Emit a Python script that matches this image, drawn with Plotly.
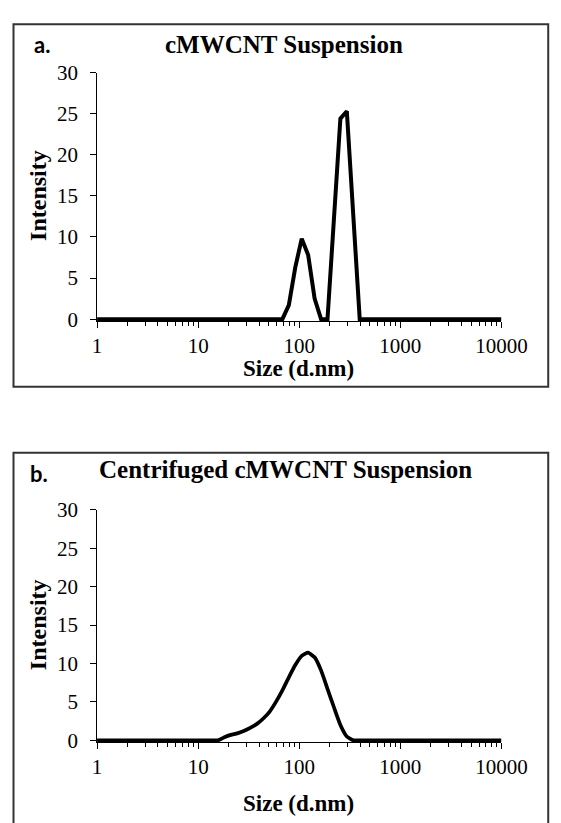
import plotly.graph_objects as go

W, H = 561, 823

# ---- data ----
size_a = [0.4, 58.77, 68.06, 78.82, 91.28, 105.7, 122.4, 141.8, 164.2, 190.1,
          220.2, 255.0, 295.3, 342.0, 396.1, 10000]
int_a = [0, 0, 0, 1.7, 6.3, 9.8, 7.8, 2.5, 0, 0,
         13.1, 24.4, 25.3, 12.2, 0, 0]

size_b = [0.4, 13.54, 15.69, 18.17, 21.04, 24.36, 28.21, 32.67, 37.84, 43.82,
          50.75, 58.77, 68.06, 78.82, 91.28, 105.7, 122.4, 141.8, 164.2, 190.1,
          220.2, 255.0, 295.3, 342.0, 396.1, 10000]
int_b = [0, 0, 0, 0.4, 0.7, 0.9, 1.2, 1.6, 2.1, 2.8,
         3.7, 5.0, 6.5, 8.2, 9.8, 11.0, 11.4, 10.8, 9.1, 6.7,
         4.3, 2.0, 0.5, 0, 0, 0]

y_tick_vals = [0, 5, 10, 15, 20, 25, 30]
x_tick_vals = [1, 10, 100, 1000, 10000]
x_tick_text = ["1", "10", "100", "1000", "10000"]
titles = ["cMWCNT Suspension", "Centrifuged cMWCNT Suspension"]
panel_labels = ["a.", "b."]
x_title = "Size (d.nm)"
y_title = "Intensity"


def px(x):
    return x / W


def py(y):
    return 1 - y / H


SERIF = "Liberation Serif"
minor_vals = [m * 10 ** d for d in range(4) for m in range(2, 10)]

fig = go.Figure()
fig.add_trace(go.Scatter(x=size_a, y=int_a, mode="lines",
                         line=dict(color="black", width=4),
                         xaxis="x", yaxis="y", showlegend=False, hoverinfo="skip"))
fig.add_trace(go.Scatter(x=size_b, y=int_b, mode="lines",
                         line=dict(color="black", width=3.7, shape="spline", smoothing=0.5),
                         xaxis="x2", yaxis="y2", showlegend=False, hoverinfo="skip"))


def xaxis(anchor):
    return dict(type="log", range=[0, 4], anchor=anchor,
                domain=[px(97.5), px(525.5)],
                showline=True, linecolor="black", linewidth=1,
                ticks="outside", ticklen=6, tickcolor="black", tickwidth=1,
                tickmode="array", tickvals=x_tick_vals, ticktext=x_tick_text,
                tickfont=dict(family=SERIF, size=21, color="black"),
                showgrid=False, zeroline=False,
                minor=dict(tickmode="array", tickvals=minor_vals, ticks="outside",
                           ticklen=4, tickcolor="black", tickwidth=1, showgrid=False))


def yaxis(anchor, top, zero, bottom):
    per = (zero - top) / 30.0
    return dict(range=[-(bottom - zero) / per, 30], anchor=anchor,
                domain=[py(bottom), py(top)],
                showline=True, linecolor="black", linewidth=1,
                ticks="outside", ticklen=6, tickcolor="black", tickwidth=1,
                tickmode="array", tickvals=y_tick_vals,
                tickfont=dict(family=SERIF, size=21, color="black"),
                ticklabelstandoff=8,
                showgrid=False, zeroline=False)


fig.update_layout(
    width=W, height=H, autosize=False,
    margin=dict(l=0, r=0, t=0, b=0),
    paper_bgcolor="white", plot_bgcolor="white",
    xaxis=xaxis("y"), yaxis=yaxis("x", 62.3, 316, 318),
    xaxis2=xaxis("y2"), yaxis2=yaxis("x2", 512.2, 749.2, 751),
)

# panel frames
frame = dict(type="rect", xref="paper", yref="paper",
             line=dict(color="#333333", width=2), fillcolor="rgba(0,0,0,0)")
fig.add_shape(**frame, x0=px(9), x1=px(575), y0=py(12.5), y1=py(385.5))
fig.add_shape(**frame, x0=px(9), x1=px(575), y0=py(453.3), y1=py(840))

panel_title_y = [33, 471]
panel_title_x = [295, 297]
label_y = [33, 475]
label_x = [39, 36]
ycent = [(62.3 + 316) / 2, (512.2 + 749.2) / 2]
xtitle_y = [367, 814]

for i in range(2):
    fig.add_annotation(text="<b>%s</b>" % titles[i], xref="paper", yref="paper",
                       x=px(panel_title_x[i]), y=py(panel_title_y[i]),
                       xanchor="center", yanchor="middle", showarrow=False,
                       font=dict(family=SERIF, size=25, color="black"))
    fig.add_annotation(text="<b>%s</b>" % panel_labels[i], xref="paper", yref="paper",
                       x=px(label_x[i]), y=py(label_y[i]),
                       xanchor="center", yanchor="middle", showarrow=False,
                       font=dict(family="Lato", size=22, color="black"))
    fig.add_annotation(text="<b>%s</b>" % y_title, xref="paper", yref="paper",
                       x=px(35), y=py(ycent[i]), textangle=-90,
                       xanchor="center", yanchor="middle", showarrow=False,
                       font=dict(family=SERIF, size=24, color="black"))
    fig.add_annotation(text="<b>%s</b>" % x_title, xref="paper", yref="paper",
                       x=px(311), y=py(xtitle_y[i]),
                       xanchor="center", yanchor="middle", showarrow=False,
                       font=dict(family=SERIF, size=23, color="black"))

fig.write_html("out.html", config={"displayModeBar": False},
               post_script="document.body.style.margin='0px';"
                           "document.body.style.overflow='hidden';")
